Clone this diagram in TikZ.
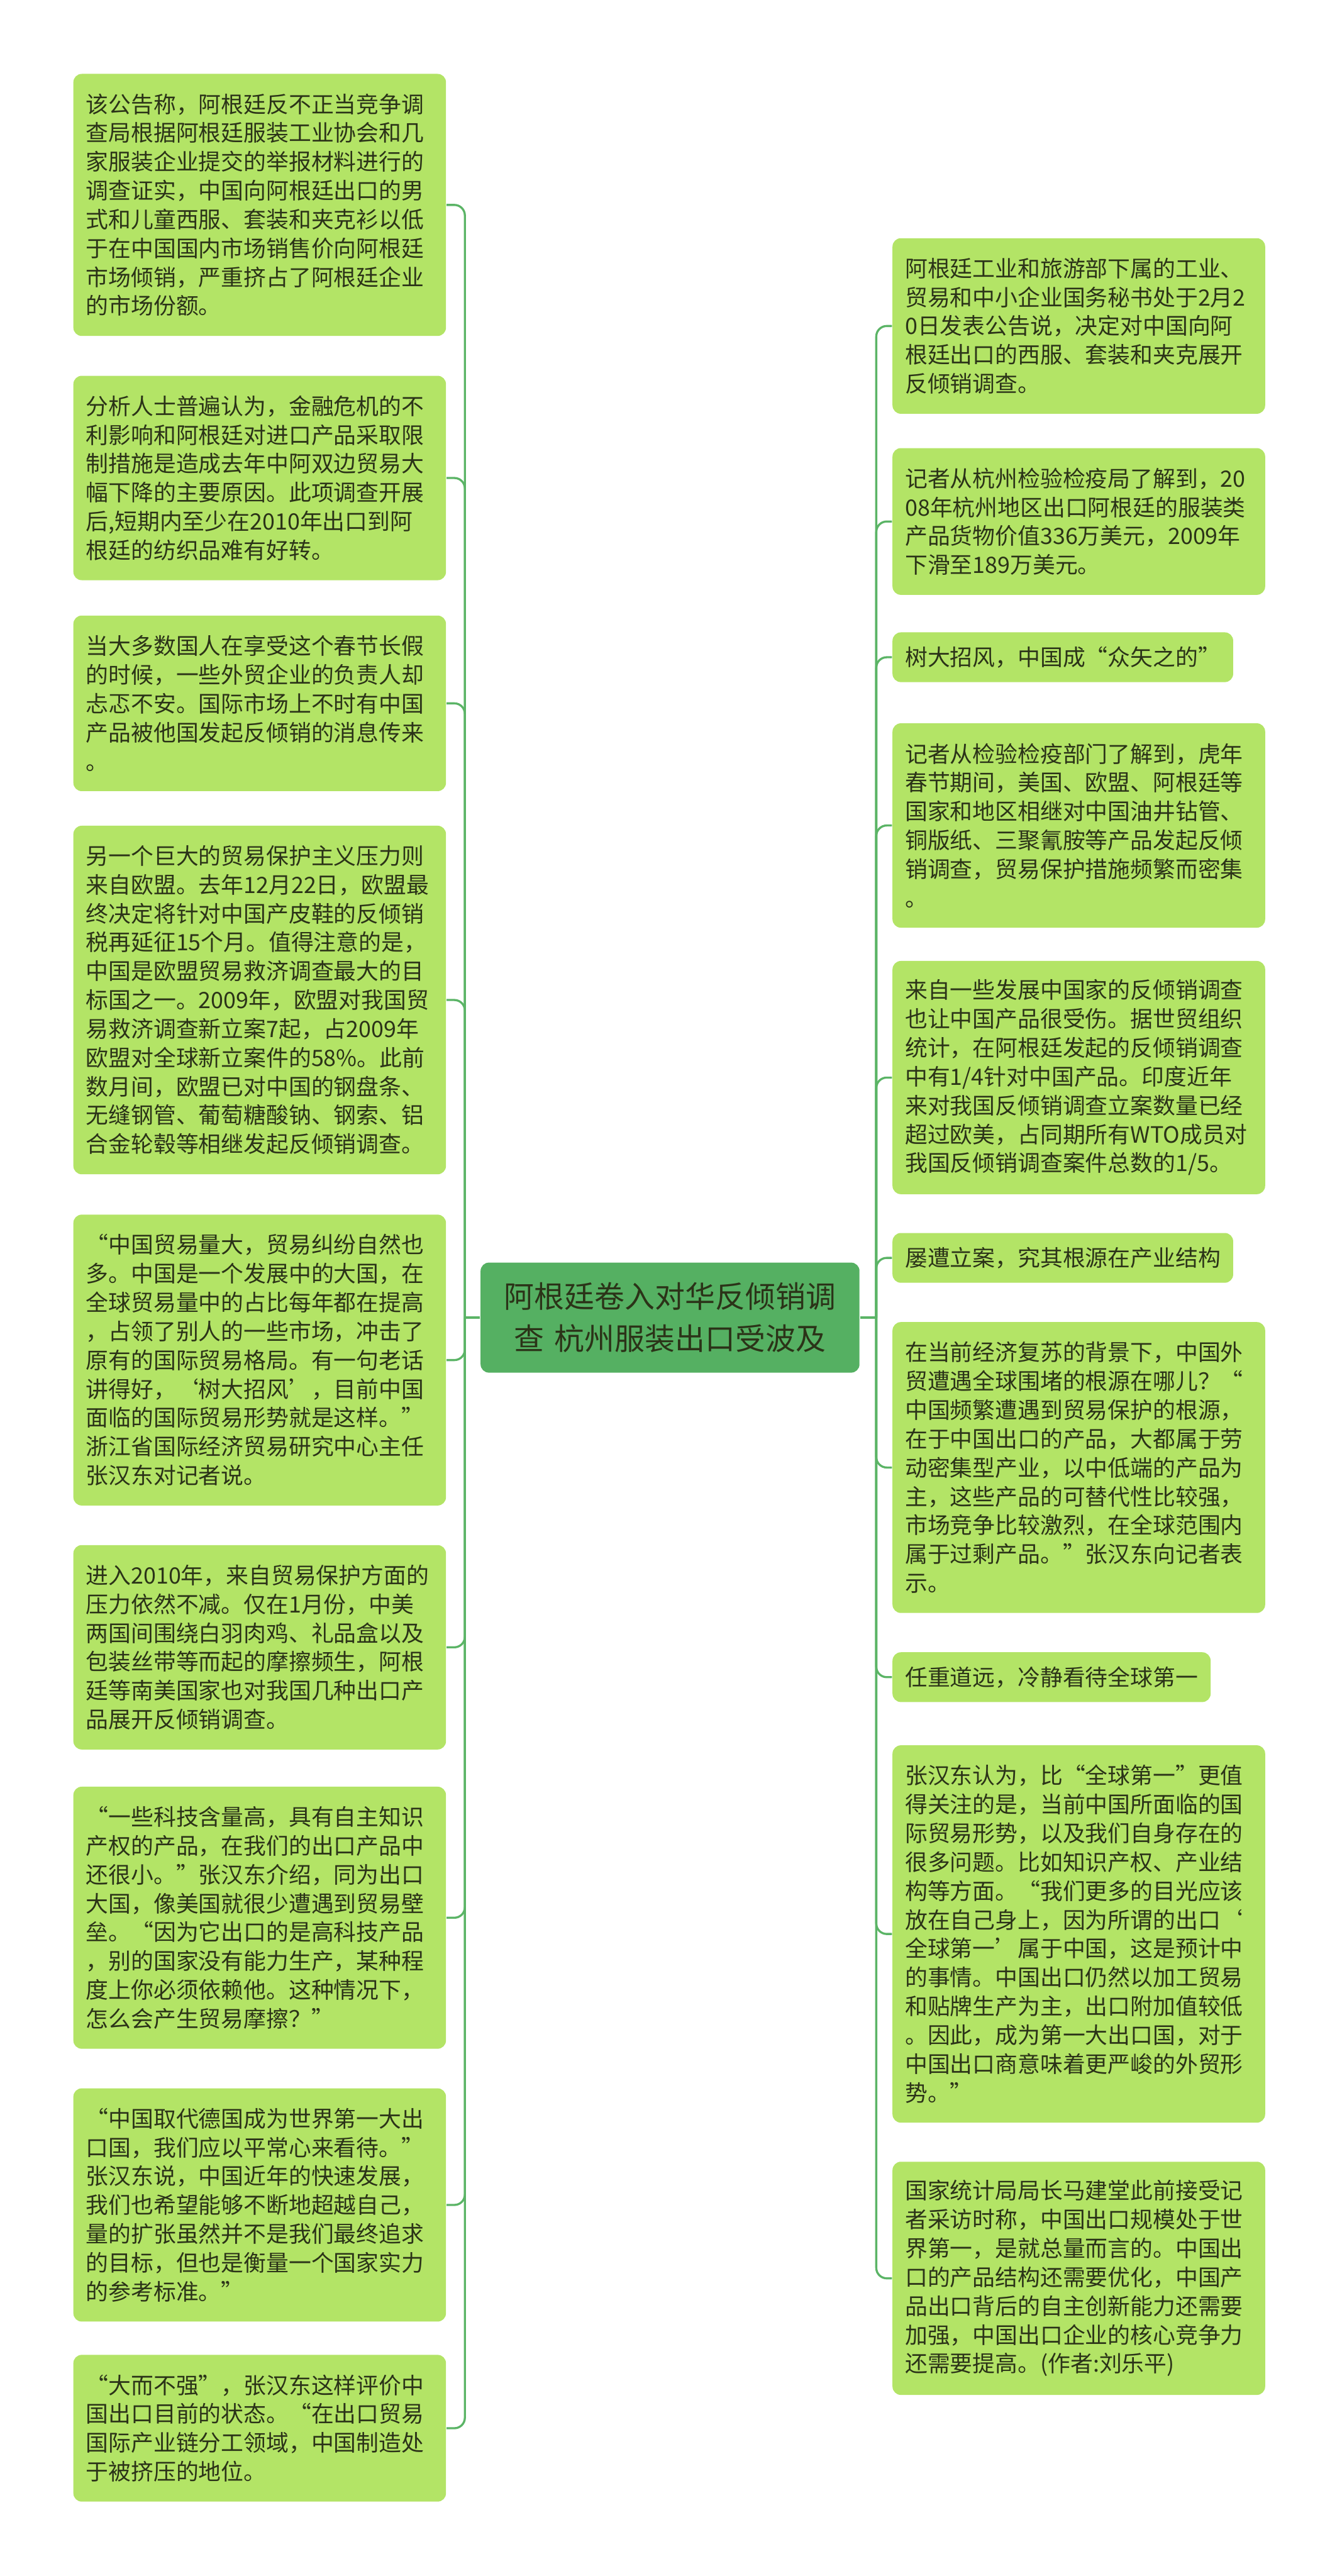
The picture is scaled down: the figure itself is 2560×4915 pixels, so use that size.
\documentclass[tikz,border=0pt]{standalone}
\usepackage{fontspec}
\setmainfont{Noto Sans CJK SC}
\definecolor{boxgreen}{HTML}{B3E466}
\definecolor{rootgreen}{HTML}{55B062}
\definecolor{linegreen}{HTML}{5BB466}
\definecolor{txt}{HTML}{2B3318}
\begin{document}
\begin{tikzpicture}[x=0.2pt,y=-0.2pt,
  leaf/.style={rounded corners=3.2pt, fill=boxgreen, inner xsep=4.8pt, inner ysep=0pt,
    align=left, text=txt, font=\fontsize{8.6}{11}\selectfont},
  wide/.style={leaf, text width=132.6pt},
  root/.style={rounded corners=3.2pt, fill=rootgreen, text=txt, inner xsep=7.3pt, inner ysep=0pt,
    align=center, text width=130pt, minimum height=42pt, font=\fontsize{11.5}{16}\selectfont},
  conn/.style={draw=linegreen, line width=0.8pt, rounded corners=4pt}]
\useasboundingbox (0,0) rectangle (2560,4915);

\node[root] (root) at (1278.5,2514) {阿根廷卷入对华反倾销调\\查 杭州服装出口受波及};
\coordinate (ls) at (887,2514);
\coordinate (rs) at (1672,2514);

% left column
\node[wide, anchor=east, minimum height=100pt] (l1) at (852,391) {该公告称，阿根廷反不正当竞争调\\查局根据阿根廷服装工业协会和几\\家服装企业提交的举报材料进行的\\调查证实，中国向阿根廷出口的男\\式和儿童西服、套装和夹克衫以低\\于在中国国内市场销售价向阿根廷\\市场倾销，严重挤占了阿根廷企业\\的市场份额。};
\node[wide, anchor=east, minimum height=78pt] (l2) at (852,912) {分析人士普遍认为，金融危机的不\\利影响和阿根廷对进口产品采取限\\制措施是造成去年中阿双边贸易大\\幅下降的主要原因。此项调查开展\\后,短期内至少在2010年出口到阿\\根廷的纺织品难有好转。};
\node[wide, anchor=east, minimum height=67pt] (l3) at (852,1342) {当大多数国人在享受这个春节长假\\的时候，一些外贸企业的负责人却\\忐忑不安。国际市场上不时有中国\\产品被他国发起反倾销的消息传来\\。};
\node[wide, anchor=east, minimum height=133pt] (l4) at (852,1908) {另一个巨大的贸易保护主义压力则\\来自欧盟。去年12月22日，欧盟最\\终决定将针对中国产皮鞋的反倾销\\税再延征15个月。值得注意的是，\\中国是欧盟贸易救济调查最大的目\\标国之一。2009年，欧盟对我国贸\\易救济调查新立案7起，占2009年\\欧盟对全球新立案件的58\%。此前\\数月间，欧盟已对中国的钢盘条、\\无缝钢管、葡萄糖酸钠、钢索、铝\\合金轮毂等相继发起反倾销调查。};
\node[wide, anchor=east, minimum height=111pt] (l5) at (852,2595) {“中国贸易量大，贸易纠纷自然也\\多。中国是一个发展中的大国，在\\全球贸易量中的占比每年都在提高\\，占领了别人的一些市场，冲击了\\原有的国际贸易格局。有一句老话\\讲得好，‘树大招风’，目前中国\\面临的国际贸易形势就是这样。”\\浙江省国际经济贸易研究中心主任\\张汉东对记者说。};
\node[wide, anchor=east, minimum height=78pt] (l6) at (852,3143) {进入2010年，来自贸易保护方面的\\压力依然不减。仅在1月份，中美\\两国间围绕白羽肉鸡、礼品盒以及\\包装丝带等而起的摩擦频生，阿根\\廷等南美国家也对我国几种出口产\\品展开反倾销调查。};
\node[wide, anchor=east, minimum height=100pt] (l7) at (852,3659) {“一些科技含量高，具有自主知识\\产权的产品，在我们的出口产品中\\还很小。”张汉东介绍，同为出口\\大国，像美国就很少遭遇到贸易壁\\垒。“因为它出口的是高科技产品\\，别的国家没有能力生产，某种程\\度上你必须依赖他。这种情况下，\\怎么会产生贸易摩擦？”};
\node[wide, anchor=east, minimum height=89pt] (l8) at (852,4207) {“中国取代德国成为世界第一大出\\口国，我们应以平常心来看待。”\\张汉东说，中国近年的快速发展，\\我们也希望能够不断地超越自己，\\量的扩张虽然并不是我们最终追求\\的目标，但也是衡量一个国家实力\\的参考标准。”};
\node[wide, anchor=east, minimum height=56pt] (l9) at (852,4633) {“大而不强”，张汉东这样评价中\\国出口目前的状态。“在出口贸易\\国际产业链分工领域，中国制造处\\于被挤压的地位。};

% right column
\node[wide, anchor=west, minimum height=67pt] (r1) at (1702,622) {阿根廷工业和旅游部下属的工业、\\贸易和中小企业国务秘书处于2月2\\0日发表公告说，决定对中国向阿\\根廷出口的西服、套装和夹克展开\\反倾销调查。};
\node[wide, anchor=west, minimum height=56pt] (r2) at (1702,995) {记者从杭州检验检疫局了解到，20\\08年杭州地区出口阿根廷的服装类\\产品货物价值336万美元，2009年\\下滑至189万美元。};
\node[leaf, anchor=west, minimum height=19pt] (r3) at (1702,1254) {树大招风，中国成“众矢之的”};
\node[wide, anchor=west, minimum height=78pt] (r4) at (1702,1575) {记者从检验检疫部门了解到，虎年\\春节期间，美国、欧盟、阿根廷等\\国家和地区相继对中国油井钻管、\\铜版纸、三聚氰胺等产品发起反倾\\销调查，贸易保护措施频繁而密集\\。};
\node[wide, anchor=west, minimum height=89pt] (r5) at (1702,2056) {来自一些发展中国家的反倾销调查\\也让中国产品很受伤。据世贸组织\\统计，在阿根廷发起的反倾销调查\\中有1/4针对中国产品。印度近年\\来对我国反倾销调查立案数量已经\\超过欧美，占同期所有WTO成员对\\我国反倾销调查案件总数的1/5。};
\node[leaf, anchor=west, minimum height=19pt] (r6) at (1702,2400) {屡遭立案，究其根源在产业结构};
\node[wide, anchor=west, minimum height=111pt] (r7) at (1702,2800) {在当前经济复苏的背景下，中国外\\贸遭遇全球围堵的根源在哪儿？“\\中国频繁遭遇到贸易保护的根源，\\在于中国出口的产品，大都属于劳\\动密集型产业，以中低端的产品为\\主，这些产品的可替代性比较强，\\市场竞争比较激烈，在全球范围内\\属于过剩产品。”张汉东向记者表\\示。};
\node[leaf, anchor=west, minimum height=19pt] (r8) at (1702,3200) {任重道远，冷静看待全球第一};
\node[wide, anchor=west, minimum height=144pt] (r9) at (1702,3690) {张汉东认为，比“全球第一”更值\\得关注的是，当前中国所面临的国\\际贸易形势，以及我们自身存在的\\很多问题。比如知识产权、产业结\\构等方面。“我们更多的目光应该\\放在自己身上，因为所谓的出口‘\\全球第一’属于中国，这是预计中\\的事情。中国出口仍然以加工贸易\\和贴牌生产为主，出口附加值较低\\。因此，成为第一大出口国，对于\\中国出口商意味着更严峻的外贸形\\势。”};
\node[wide, anchor=west, minimum height=89pt] (r10) at (1702,4347) {国家统计局局长马建堂此前接受记\\者采访时称，中国出口规模处于世\\界第一，是就总量而言的。中国出\\口的产品结构还需要优化，中国产\\品出口背后的自主创新能力还需要\\加强，中国出口企业的核心竞争力\\还需要提高。(作者:刘乐平)};

% connectors
\draw[conn] (root.west) -- (ls);
\draw[conn] (root.east) -- (rs);
\foreach \n in {l1,l2,l3,l4,l5,l6,l7,l8,l9}
  \draw[conn] (ls) |- (\n.east);
\foreach \n in {r1,r2,r3,r4,r5,r6,r7,r8,r9,r10}
  \draw[conn] (rs) |- (\n.west);
\end{tikzpicture}
\end{document}
